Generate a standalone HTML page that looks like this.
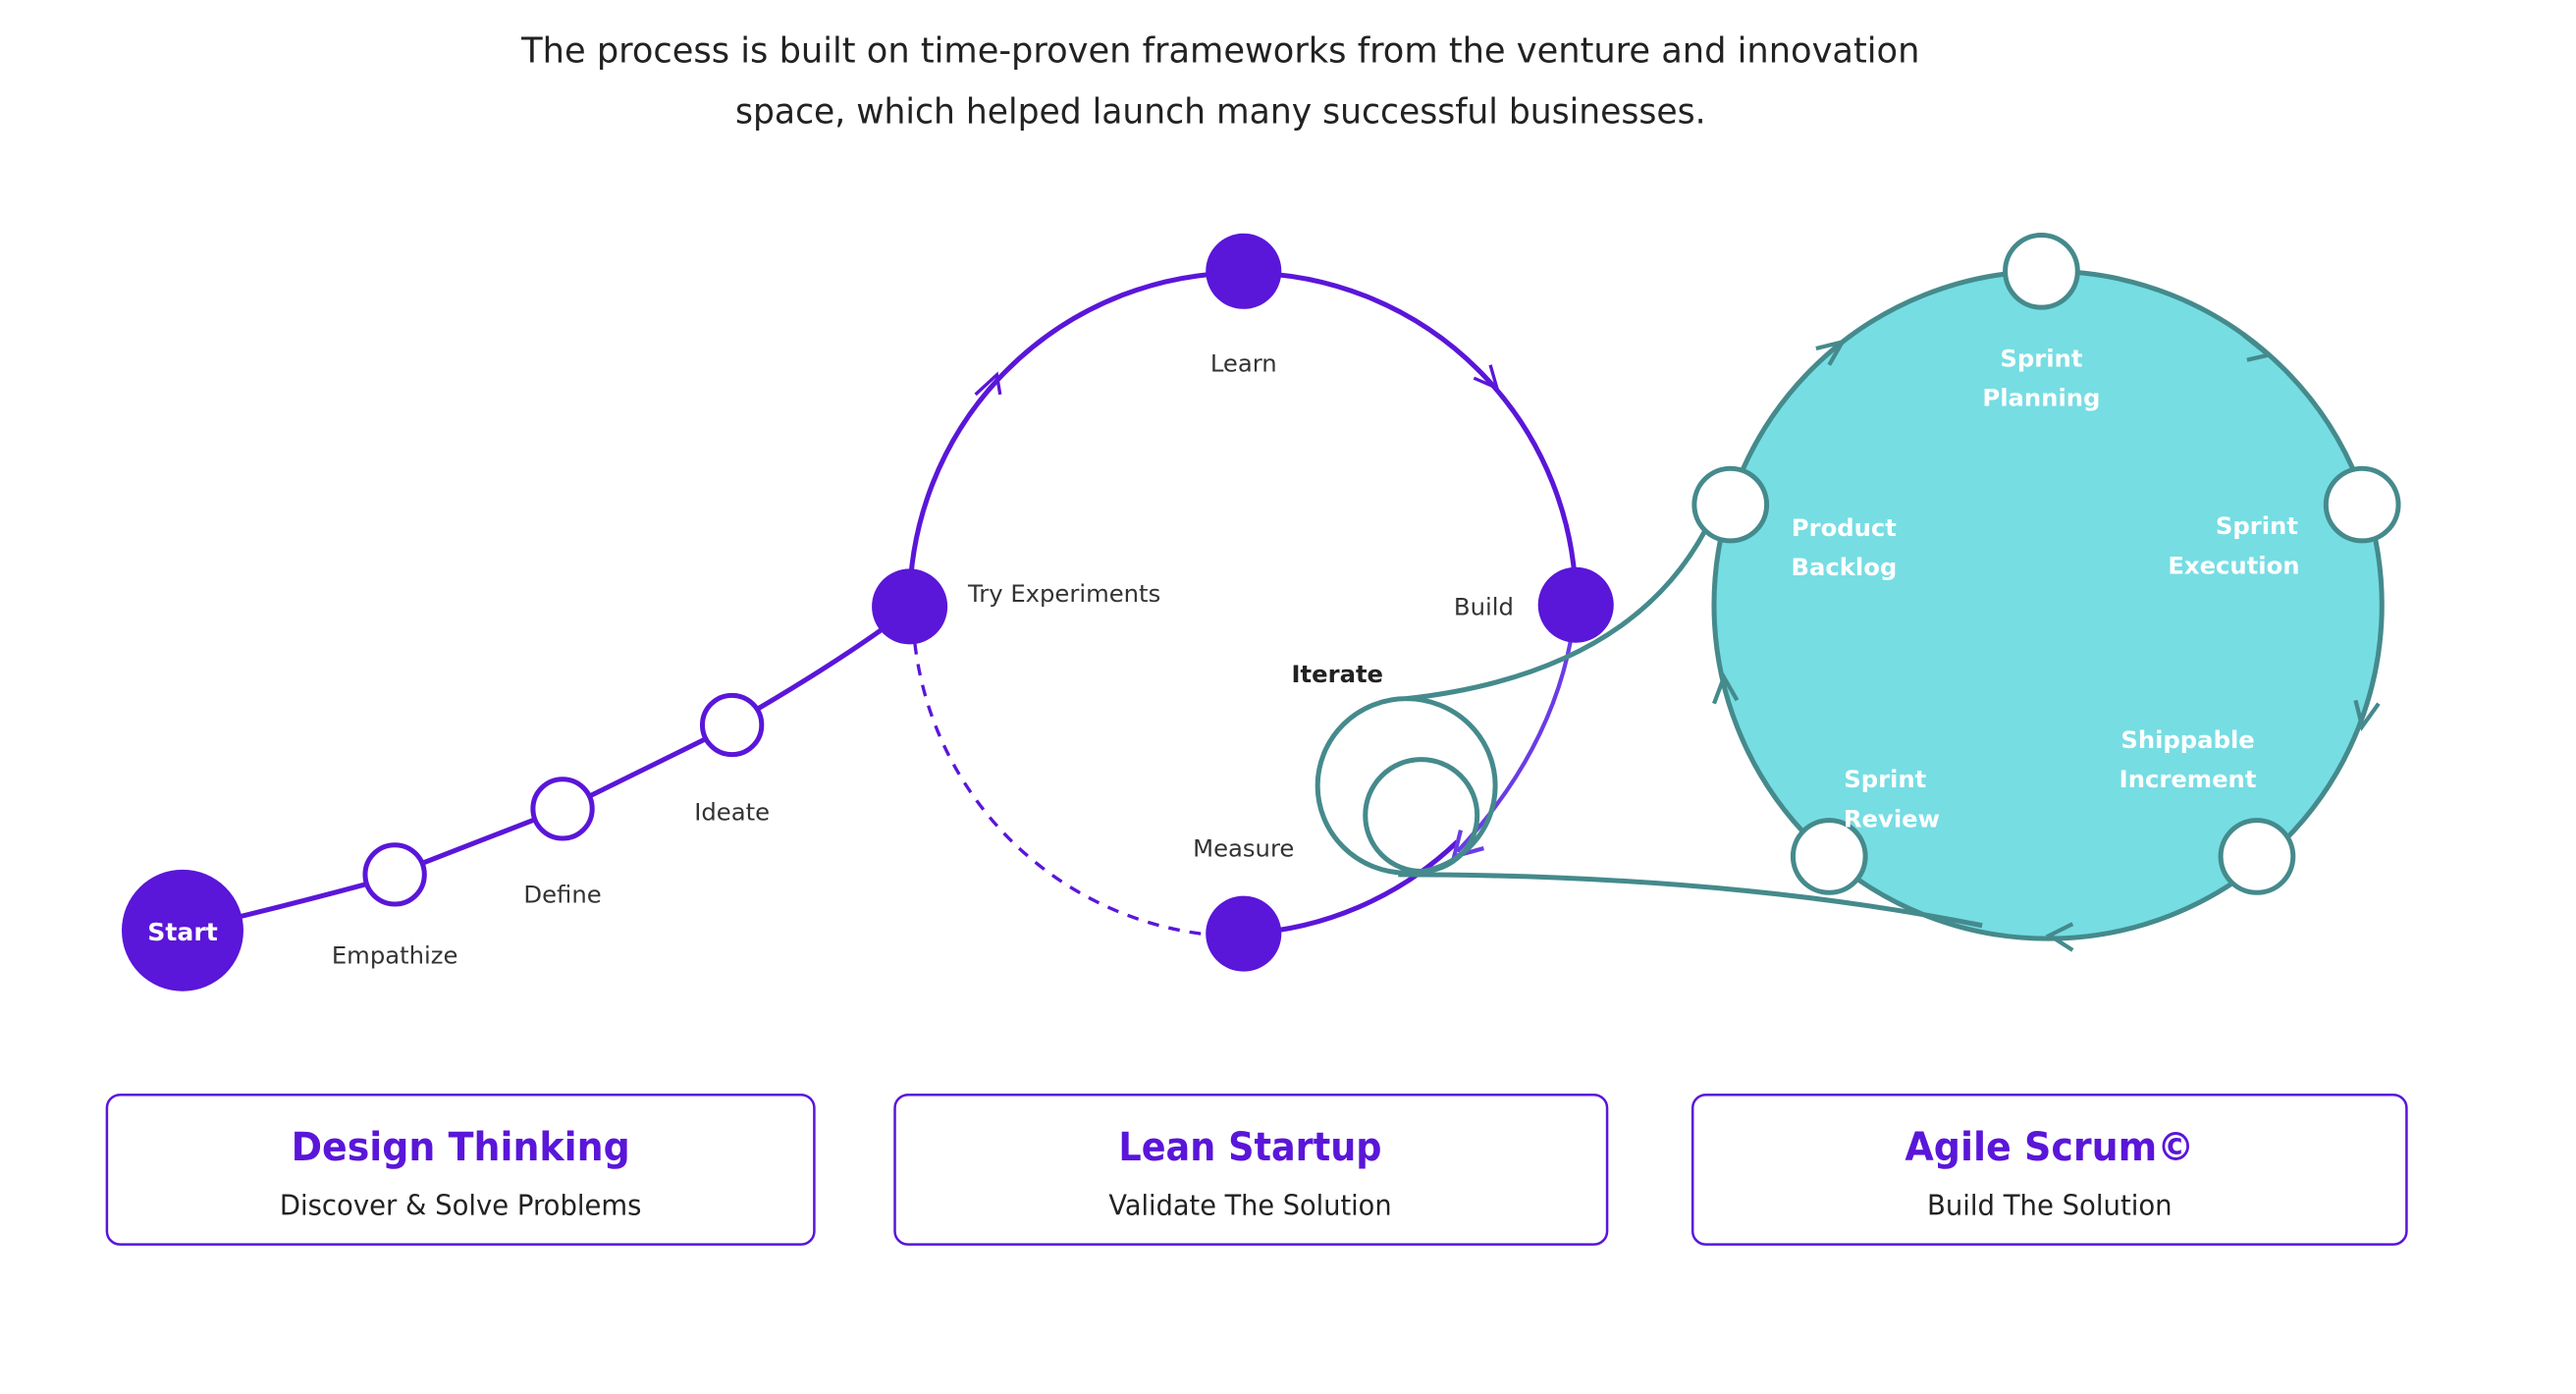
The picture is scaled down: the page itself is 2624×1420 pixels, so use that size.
<!DOCTYPE html>
<html><head><meta charset="utf-8"><style>
html,body{margin:0;padding:0;background:#fff;}
svg{display:block;}
text{font-family:"DejaVu Sans","Liberation Sans",sans-serif;}
</style></head><body>
<svg width="2624" height="1420" viewBox="0 0 1566 848" preserveAspectRatio="none" xmlns="http://www.w3.org/2000/svg">
<text x="742" y="38" font-size="21" fill="#222" text-anchor="middle" textLength="850" lengthAdjust="spacingAndGlyphs">The process is built on time-proven frameworks from the venture and innovation</text>
<text x="742" y="75" font-size="21" fill="#222" text-anchor="middle" textLength="590" lengthAdjust="spacingAndGlyphs">space, which helped launch many successful businesses.</text>

<!-- scrum circle -->
<circle cx="1245" cy="368" r="203" fill="#76dde3" stroke="#458a8c" stroke-width="3"/>
<g fill="none" stroke="#458a8c" stroke-width="2.5">
<path d="M1104,212 L1120,208 L1112,222"/>
<path d="M1364,204 L1379,216 L1366,219"/>
<path d="M1446,428 L1436,442 L1432,426"/>
<path d="M1260,578 L1246,569 L1260,562"/>
<path d="M1042,428 L1048,412 L1056,426"/>
</g>
<g fill="#fff" stroke="#458a8c" stroke-width="3">
<circle cx="1241" cy="165" r="22"/><circle cx="1436" cy="307" r="22"/><circle cx="1052" cy="307" r="22"/>
<circle cx="1112" cy="521" r="22"/><circle cx="1372" cy="521" r="22"/>
</g>
<g fill="#fff" font-size="14.5" font-weight="bold" text-anchor="middle">
<text x="1241" y="223">Sprint</text><text x="1241" y="247">Planning</text>
<text x="1121" y="326">Product</text><text x="1121" y="350">Backlog</text>
<text x="1372" y="325">Sprint</text><text x="1358" y="349">Execution</text>
<text x="1330" y="455">Shippable</text><text x="1330" y="479">Increment</text>
<text x="1146" y="479">Sprint</text><text x="1150" y="503">Review</text>
</g>

<!-- lean circle -->
<g fill="none" stroke="#5a16d9" stroke-width="3">
<path d="M553,369 A202,202 0 0 1 756,166"/>
<path d="M756,166 A202,202 0 0 1 958,368"/>
<path d="M730,568 A202,202 0 0 1 556,390" stroke-dasharray="7,6" stroke-width="2"/>
<path d="M756,568 A202,202 0 0 0 886,512"/>
<path d="M593,240 L606,228 L608,240" stroke-width="2"/>
<path d="M896,230 L910,236 L906,222" stroke-width="2"/>
</g>
<path d="M958,368 Q950,450 886,518" fill="none" stroke="#6a3ce6" stroke-width="2.5"/>
<path d="M888,505 L884,521 L902,516" fill="none" stroke="#6a3ce6" stroke-width="2.5"/>

<!-- iterate -->
<g fill="none" stroke="#458a8c" stroke-width="3">
<path d="M1037,322 Q990,410 855,425"/>
<ellipse cx="855" cy="478" rx="54" ry="53"/>
<ellipse cx="864" cy="496" rx="34" ry="34"/>
<path d="M850,532 Q1050,532 1205,563"/>
</g>

<g fill="#5a16d9">
<circle cx="756" cy="165" r="23"/><circle cx="958" cy="368" r="23"/><circle cx="756" cy="568" r="23"/><circle cx="553" cy="369" r="23"/>
</g>

<!-- design thinking path -->
<path d="M111,566 Q170,552 222,538 M257,525 L324,499 M359,484 L428,450 M461,431 Q505,405 536,383" fill="none" stroke="#5a16d9" stroke-width="3"/>
<circle cx="111" cy="566" r="37" fill="#5a16d9"/>
<g fill="#fff" stroke="#5a16d9" stroke-width="3">
<circle cx="240" cy="532" r="18"/><circle cx="342" cy="492" r="18"/><circle cx="445" cy="441" r="18"/>
</g>
<text x="111" y="572" font-size="15" font-weight="bold" fill="#fff" text-anchor="middle">Start</text>
<g font-size="14.5" fill="#333" text-anchor="middle">
<text x="240" y="586">Empathize</text><text x="342" y="549">Define</text><text x="445" y="499">Ideate</text>
<text x="756" y="226">Learn</text><text x="647" y="366">Try Experiments</text>
<text x="902" y="374">Build</text><text x="756" y="521">Measure</text>
<text x="813" y="415" font-weight="bold" fill="#222">Iterate</text>
</g>

<!-- boxes -->
<g fill="#fff" stroke="#5a16d9" stroke-width="1.5">
<rect x="65" y="666" width="430" height="91" rx="8"/>
<rect x="544" y="666" width="433" height="91" rx="8"/>
<rect x="1029" y="666" width="434" height="91" rx="8"/>
</g>
<g text-anchor="middle">
<text x="280" y="706" font-size="24" font-weight="bold" fill="#5a16d9" textLength="206" lengthAdjust="spacingAndGlyphs">Design Thinking</text>
<text x="280" y="739" font-size="17" fill="#222" textLength="220" lengthAdjust="spacingAndGlyphs">Discover &amp; Solve Problems</text>
<text x="760" y="706" font-size="24" font-weight="bold" fill="#5a16d9" textLength="160" lengthAdjust="spacingAndGlyphs">Lean Startup</text>
<text x="760" y="739" font-size="17" fill="#222" textLength="172" lengthAdjust="spacingAndGlyphs">Validate The Solution</text>
<text x="1246" y="706" font-size="24" font-weight="bold" fill="#5a16d9" textLength="176" lengthAdjust="spacingAndGlyphs">Agile Scrum©</text>
<text x="1246" y="739" font-size="17" fill="#222" textLength="149" lengthAdjust="spacingAndGlyphs">Build The Solution</text>
</g>
</svg>
</body></html>
